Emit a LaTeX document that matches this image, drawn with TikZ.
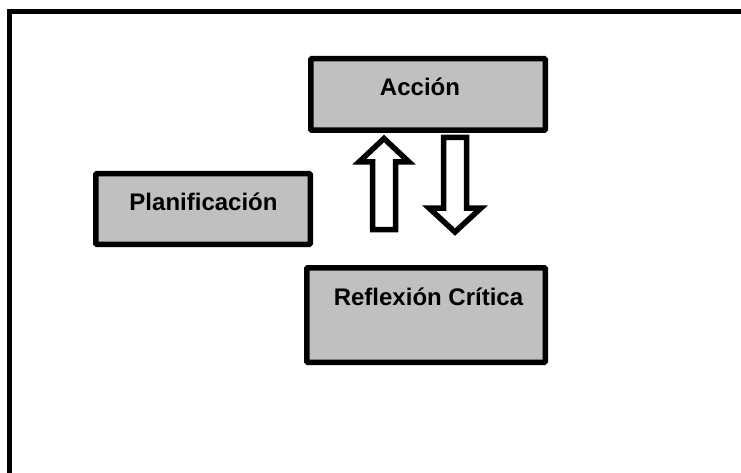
\documentclass[tikz,border=0pt]{standalone}
\usepackage{fontspec}
\setmainfont{Liberation Sans}
\usetikzlibrary{calc}
\definecolor{mygray}{RGB}{192,192,192}
\tikzstyle{graybox} = [draw=black, line width=5.5, fill=mygray,
    rounded corners=1, inner sep=0]
\tikzstyle{boxtext} = [anchor=base, inner sep=0,
    font=\fontsize{24}{28}\selectfont\bfseries]
\tikzstyle{hollow} = [draw=black, line width=5.5, fill=white, line join=miter]

\begin{document}
\begin{tikzpicture}[x=1pt, y=-1pt]
\clip (0,0) rectangle (741,473);

% 1. Outer frame (only top and left edges show)
\draw[line width=5] (9.5,480) -- (9.5,11.5) -- (750,11.5);

% 2. Place the boxes using (X, Y) coordinates
\node[graybox, minimum width=234.5, minimum height=71.5] (accion) at (428,94.5) {};
\node[graybox, minimum width=214.5, minimum height=70.5] (plan) at (203,209) {};
\node[graybox, minimum width=238.5, minimum height=94.5] (refl) at (426,315) {};

% 3. Texts of the boxes
\node[boxtext] (accion-txt) at (420,96) {Acción};
\node[boxtext] (plan-txt) at (203.5,210) {Planificación};
\node[boxtext] (refl-txt) at (428.5,305) {Reflexión Crítica};

% 4. Hollow arrows between Reflexión and Acción
\coordinate (upfoot) at (384,229.5);
\coordinate (downtop) at (455,137.5);
\draw[hollow] ($(upfoot)+(-11.5,0)$) -- ++(0,-67.5) -- ++(-13.5,0)
    -- ($(upfoot)+(0,-91)$) -- ++(25,23.5) -- ++(-13.5,0) -- ($(upfoot)+(11.5,0)$) -- cycle;
\draw[hollow] ($(downtop)+(-11.5,0)$) -- ++(0,70.5) -- ++(-14.5,0)
    -- ($(downtop)+(0,94.5)$) -- ++(26,-24) -- ++(-14.5,0) -- ($(downtop)+(11.5,0)$) -- cycle;

\end{tikzpicture}
\end{document}
